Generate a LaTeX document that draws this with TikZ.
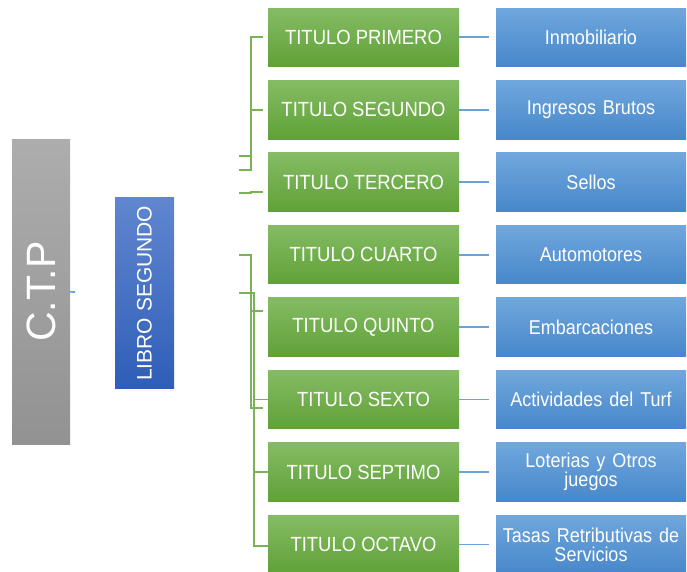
\documentclass[tikz,border=0pt]{standalone}
\usepackage{fontspec}
\setmainfont{Liberation Sans}
\newfontfamily\narrowfont[FakeStretch=0.9]{Liberation Sans}
\definecolor{gtop}{HTML}{84BC64}
\definecolor{gbot}{HTML}{60A137}
\definecolor{btop}{HTML}{70A7DD}
\definecolor{bbot}{HTML}{4787CA}
\definecolor{ktop}{HTML}{ADADAD}
\definecolor{kbot}{HTML}{929292}
\definecolor{ltop}{HTML}{6086CF}
\definecolor{lbot}{HTML}{2F5EB8}
\definecolor{gln}{HTML}{7AB356}
\definecolor{bln}{HTML}{6AA2DA}
\begin{document}
\begin{tikzpicture}[x=1pt,y=-1pt,
 titbox/.style={rectangle, minimum width=191pt, minimum height=58.5pt, inner sep=0pt,
   top color=gtop, bottom color=gbot, text=white,
   font=\narrowfont\fontsize{20.5}{22}\selectfont},
 impbox/.style={rectangle, minimum width=190pt, minimum height=58.5pt, inner sep=0pt,
   top color=btop, bottom color=bbot, text=white, align=center,
   font=\narrowfont\fontsize{20}{19}\selectfont,
   execute at begin node={\spaceskip=7pt\relax}},
 sidebox/.style={rectangle, inner sep=0pt, text=white},
 gline/.style={draw=gln, line width=1.7pt},
 bline/.style={draw=bln, line width=1.7pt},
]
\useasboundingbox (0,0) rectangle (687,571);

% left boxes
\node[sidebox, minimum width=58pt, minimum height=305.5pt, top color=ktop, bottom color=kbot,
  font=\fontsize{41}{41}\selectfont] (ctp) at (41,291.8) {\rotatebox{90}{C.T.P}};
\node[sidebox, minimum width=59pt, minimum height=190.7pt, top color=ltop, bottom color=lbot,
  font=\fontsize{21}{21}\selectfont] (libro) at (144.5,293.3) {\rotatebox{90}{LIBRO SEGUNDO}};

% titulo boxes
\node[titbox] (g1) at (363.5,37.3)  {TITULO PRIMERO};
\node[titbox] (g2) at (363.5,109.75) {TITULO SEGUNDO};
\node[titbox] (g3) at (363.5,182.2) {TITULO TERCERO};
\node[titbox] (g4) at (363.5,254.65) {TITULO CUARTO};
\node[titbox] (g5) at (363.5,327.1) {TITULO QUINTO};
\node[titbox] (g6) at (363.5,399.55) {TITULO SEXTO};
\node[titbox] (g7) at (363.5,472.0) {TITULO SEPTIMO};
\node[titbox] (g8) at (363.5,544.45) {TITULO OCTAVO};

% impuesto boxes
\node[impbox] (b1) at (591,37.3)  {Inmobiliario};
\node[impbox] (b2) at (591,109.75) {Ingresos Brutos};
\node[impbox] (b3) at (591,182.2) {Sellos};
\node[impbox] (b4) at (591,254.65) {Automotores};
\node[impbox] (b5) at (591,327.1) {Embarcaciones};
\node[impbox] (b6) at (591,399.55) {Actividades del Turf};
\node[impbox] (b7) at (591,472.0) {Loterias y Otros\\juegos};
\node[impbox] (b8) at (591,544.45) {Tasas Retributivas de\\Servicios};

% stub from C.T.P
\coordinate (ctpstub) at (75,292);
\draw[bline] (ctp.east) -- (ctpstub);

% group A
\coordinate (Abot) at (251,170);
\coordinate (Abotl) at (239,170);
\coordinate (Astub) at (239,155.7);
\draw[gline] ([xshift=-5pt]g1.west) -| (Abot) -- (Abotl);
\draw[gline] ([xshift=-5pt]g2.west) -- (g2.west -| Abot);
\draw[gline] (Astub) -- (Astub -| Abot);

% stub near tercero
\coordinate (S1) at (239,193.3);
\coordinate (S2) at (251,193.3);
\coordinate (S3) at (251,191.7);
\coordinate (S4) at (263,191.7);
\draw[gline] (S1) -- (S2) -- (S3) -- (S4);

% group B
\coordinate (Bl) at (239,255);
\coordinate (Btop) at (251,255);
\coordinate (Bbot) at (251,407.7);
\coordinate (B5) at (263,311.3);
\coordinate (B6) at (263,407.7);
\draw[gline] (Bl) -- (Btop) -- (Bbot) -- (B6);
\draw[gline] (B5) -- (B5 -| Btop);

% group C
\coordinate (Cl) at (239,293.3);
\coordinate (Ctop) at (254.3,293.3);
\draw[gline] (Cl) -- (Ctop) |- ([yshift=-1.5pt]g8.west);
\draw[gline] (g6.west) -- (g6.west -| Ctop);
\draw[gline] (g7.west) -- (g7.west -| Ctop);

% titulo -> impuesto
\foreach \i in {1,...,8}{
  \draw[bline, shorten >=7pt] (g\i.east) -- (b\i.west);
}
\end{tikzpicture}
\end{document}
